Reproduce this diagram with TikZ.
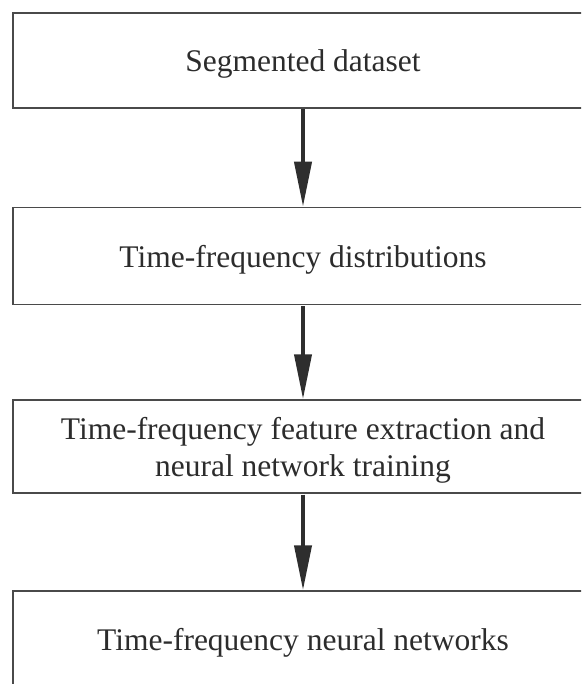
\documentclass[tikz,border=0pt]{standalone}
\usepackage{fontspec}
\setmainfont{Liberation Serif}
\usetikzlibrary{arrows.meta}
\definecolor{boxline}{HTML}{4A4A4A}
\definecolor{txt}{HTML}{2C2C2C}
\definecolor{arr}{HTML}{2E2E2E}
\begin{document}
\begin{tikzpicture}[x=1pt,y=-1pt,
  flowbox/.style={draw=boxline, line width=1.5pt, minimum width=580pt, inner sep=0pt,
     text depth=0pt, text=txt, align=center, font=\fontsize{31.5}{37}\selectfont},
  flowarrow/.style={draw=arr, line width=4pt, -{Triangle[length=45pt,width=17pt]}, shorten <=0.75pt}]
\useasboundingbox (0,0) rectangle (581,684);
\clip (0,0) rectangle (581,684);
\node[flowbox, minimum height=95pt] (b1) at (303,60.5) {Segmented dataset};
\node[flowbox, minimum height=97pt] (b2) at (303,256) {Time-frequency distributions};
\node[flowbox, minimum height=93pt] (b3) at (303,446.5) {Time-frequency feature extraction and\\neural network training};
\node[flowbox, minimum height=96pt] (b4) at (303,639) {Time-frequency neural networks};
\draw[flowarrow] (b1.south) -- (b2.north);
\draw[flowarrow] (b2.south) -- (b3.north);
\draw[flowarrow] (b3.south) -- (b4.north);
\end{tikzpicture}
\end{document}
